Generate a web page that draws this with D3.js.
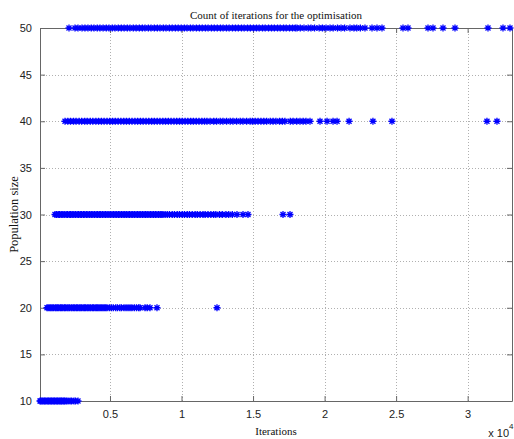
<!DOCTYPE html>
<html>
<head>
<meta charset="utf-8">
<script src="https://cdn.jsdelivr.net/npm/d3@7"></script>
<style>
  body { margin: 0; background: #fff; }
  svg { display: block; }
  .tick text { font-family: "Liberation Sans", Arial, sans-serif; font-size: 11px; fill: #222; }
</style>
</head>
<body>
<script>
const WIDTH = 514;
const HEIGHT = 439;

// limites de la zona de dibujo (como en la figura de matlab)
const margen = { top: 28, right: 2, bottom: 38, left: 40 };

// tamaños de población y sus iteraciones
const poblaciones = [10, 20, 30, 40, 50];

const iter10 = [107, 165, 240, 310, 395, 450, 520, 610, 680, 735, 820, 890, 945, 1030, 1100, 1150,
  1240, 1310, 1365, 1450, 1520, 1590, 1640, 1730, 1800, 1855, 1960, 2070, 2210, 2320, 2480, 2590, 2763];

const iter20 = [596, 680, 790, 870, 960, 1050, 1170, 1240, 1330, 1420, 1530, 1610, 1700, 1810, 1880,
  1990, 2070, 2160, 2280, 2350, 2460, 2540, 2650, 2730, 2840, 2920, 3010, 3120, 3210, 3290, 3400,
  3480, 3590, 3660, 3780, 3850, 3960, 4050, 4140, 4230, 4320, 4420, 4510, 4600, 4700, 4790, 4950,
  5100, 5230, 5400, 5520, 5690, 5800, 5980, 6120, 6260, 6400, 6530, 6700, 6850, 7000, 7097, 7447,
  7600, 7796, 8285, 12479];

const iter30 = [1156, 1260, 1380, 1470, 1590, 1700, 1800, 1930, 2020, 2150, 2250, 2360, 2470, 2580,
  2700, 2800, 2920, 3020, 3150, 3240, 3370, 3460, 3580, 3690, 3800, 3910, 4030, 4130, 4250, 4350,
  4470, 4580, 4690, 4800, 4920, 5020, 5140, 5250, 5360, 5470, 5590, 5690, 5810, 5920, 6030, 6140,
  6260, 6360, 6480, 6590, 6700, 6820, 6930, 7040, 7150, 7270, 7380, 7490, 7600, 7720, 7830, 7940,
  8050, 8170, 8280, 8400, 8510, 8620, 8705, 8850, 9000, 9150, 9350, 9500, 9700, 9850, 10050, 10200,
  10400, 10550, 10750, 10950, 11100, 11300, 11500, 11650, 11850, 12050, 12250, 12400, 12650, 12850,
  13100, 13300, 13550, 13877, 14297, 14646, 17093, 17582];

const iter40 = [1855, 2050, 2240, 2450, 2630, 2840, 3020, 3230, 3410, 3620, 3800, 4010, 4200, 4400,
  4590, 4790, 4980, 5180, 5370, 5570, 5760, 5960, 6150, 6350, 6540, 6740, 6930, 7130, 7320, 7520,
  7710, 7910, 8100, 8300, 8490, 8690, 8880, 9080, 9270, 9470, 9660, 9860, 10050, 10250, 10440, 10640,
  10830, 11030, 11220, 11420, 11610, 11780, 12000, 12250, 12450, 12700, 12900, 13150, 13400, 13600,
  13850, 14100, 14300, 14550, 14790, 14950, 15150, 15350, 15550, 15750, 15950, 16200, 16400, 16600,
  16850, 17050, 17230, 17600, 17800, 18050, 18280, 18500, 18700, 18980, 19680, 20170, 20590, 20870,
  21710, 23380, 24710, 31350, 32050];

const iter50 = [2134, 2554, 2763, 3043, 3250, 3460, 3690, 3880, 4110, 4300, 4520, 4740, 4930, 5160,
  5350, 5580, 5790, 5990, 6210, 6400, 6630, 6830, 7050, 7260, 7450, 7680, 7870, 8100, 8310, 8500,
  8730, 8920, 9150, 9350, 9570, 9770, 9980, 10200, 10390, 10620, 10810, 11040, 11250, 11450, 11670,
  11860, 12090, 12290, 12500, 12720, 12910, 13140, 13330, 13560, 13770, 13970, 14190, 14380, 14610,
  14810, 15030, 15240, 15430, 15660, 15850, 16080, 16290, 16490, 16710, 16900, 17130, 17320, 17550,
  17760, 17950, 18071, 18300, 18560, 18850, 19050, 19300, 19620, 19850, 20100, 20380, 20600, 20900,
  21150, 21400, 21776, 22050, 22250, 22500, 22824, 23314, 23663, 24013, 25481, 25830, 27228, 27578,
  28277, 29116, 31422, 32471, 32960];

const series = [iter10, iter20, iter30, iter40, iter50];

const xTicks = [5000, 10000, 15000, 20000, 25000, 30000];
const xTickLabels = ["0.5", "1", "1.5", "2", "2.5", "3"];
const yTicks = [10, 15, 20, 25, 30, 35, 40, 45, 50];

// juntamos todo en una lista de puntos
const puntos = [];
series.forEach((valores, i) => {
  valores.forEach((v) => puntos.push({ x: v, y: poblaciones[i] }));
});

const svg = d3
  .select("body")
  .append("svg")
  .attr("width", WIDTH)
  .attr("height", HEIGHT);

const x = d3.scaleLinear()
  .domain([107, 33100])
  .range([margen.left, WIDTH - margen.right]);

const y = d3.scaleLinear()
  .domain([10, 50])
  .range([HEIGHT - margen.bottom, margen.top]);

const x0 = margen.left, x1 = WIDTH - margen.right;
const y0 = HEIGHT - margen.bottom, y1 = margen.top;

// grilla punteada
const grilla = svg.append("g")
  .attr("stroke", "#b0b0b0")
  .attr("stroke-width", 1)
  .attr("stroke-dasharray", "1,2");

grilla.selectAll(".gx")
  .data(xTicks)
  .join("line")
  .attr("x1", (d) => Math.round(x(d)) + 0.5)
  .attr("x2", (d) => Math.round(x(d)) + 0.5)
  .attr("y1", y1)
  .attr("y2", y0);

grilla.selectAll(".gy")
  .data(yTicks.filter((d) => d > 10 && d < 50))
  .join("line")
  .attr("x1", x0)
  .attr("x2", x1)
  .attr("y1", (d) => Math.round(y(d)) + 0.5)
  .attr("y2", (d) => Math.round(y(d)) + 0.5);

// ejes estilo matlab, ticks hacia adentro
const ejeX = d3.axisBottom(x)
  .tickValues(xTicks)
  .tickFormat((d, i) => xTickLabels[i])
  .tickSizeInner(-5)
  .tickSizeOuter(0)
  .tickPadding(9);

const ejeY = d3.axisLeft(y)
  .tickValues(yTicks)
  .tickFormat(d3.format("d"))
  .tickSizeInner(-5)
  .tickSizeOuter(0)
  .tickPadding(8);

const gx = svg.append("g")
  .attr("transform", `translate(0,${y0})`)
  .call(ejeX);

const gy = svg.append("g")
  .attr("transform", `translate(${x0},0)`)
  .call(ejeY);

// eje superior y derecho (box on)
const gxTop = svg.append("g")
  .attr("transform", `translate(0,${y1})`)
  .call(d3.axisTop(x).tickValues(xTicks).tickFormat("").tickSizeInner(-5).tickSizeOuter(0));

const gyRight = svg.append("g")
  .attr("transform", `translate(${x1},0)`)
  .call(d3.axisRight(y).tickValues(yTicks).tickFormat("").tickSizeInner(-5).tickSizeOuter(0));

[gx, gy, gxTop, gyRight].forEach((g) => {
  g.selectAll("path, line").attr("stroke", "#666");
});

// marcadores '*'
const estrella = "M-3.5,0H3.5M0,-3.5V3.5M-2.5,-2.5L2.5,2.5M-2.5,2.5L2.5,-2.5";

svg.append("g")
  .selectAll("path")
  .data(puntos)
  .join("path")
  .attr("transform", (d) => `translate(${x(d.x)},${y(d.y)})`)
  .attr("d", estrella)
  .attr("fill", "none")
  .attr("stroke", "#0000ff")
  .attr("stroke-width", 1.3);

// textos
svg.append("text")
  .attr("x", (x0 + x1) / 2)
  .attr("y", 19)
  .attr("text-anchor", "middle")
  .attr("font-family", "Liberation Serif, Times New Roman, serif")
  .attr("font-size", 11)
  .attr("fill", "#111")
  .text("Count of iterations for the optimisation");

svg.append("text")
  .attr("x", (x0 + x1) / 2)
  .attr("y", 435)
  .attr("text-anchor", "middle")
  .attr("font-family", "Liberation Serif, Times New Roman, serif")
  .attr("font-size", 11)
  .attr("fill", "#111")
  .text("Iterations");

svg.append("text")
  .attr("transform", `translate(18,${(y0 + y1) / 2}) rotate(-90)`)
  .attr("text-anchor", "middle")
  .attr("font-family", "Liberation Serif, Times New Roman, serif")
  .attr("font-size", 12.5)
  .attr("fill", "#111")
  .text("Population size");

svg.append("text")
  .attr("x", 509)
  .attr("y", 437)
  .attr("text-anchor", "end")
  .attr("font-family", "Liberation Sans, Arial, sans-serif")
  .attr("font-size", 11)
  .attr("fill", "#222")
  .text("x 10");

svg.append("text")
  .attr("x", 509)
  .attr("y", 429)
  .attr("font-family", "Liberation Sans, Arial, sans-serif")
  .attr("font-size", 8)
  .attr("fill", "#222")
  .text("4");
</script>
</body>
</html>
